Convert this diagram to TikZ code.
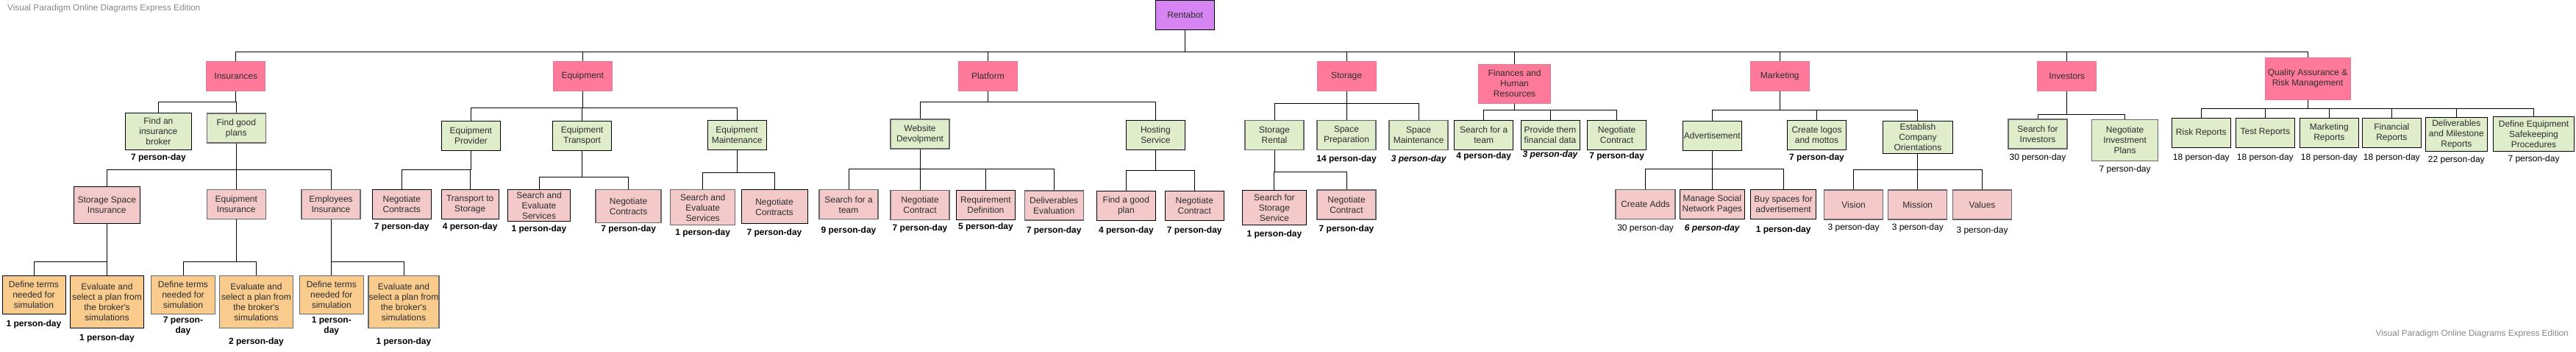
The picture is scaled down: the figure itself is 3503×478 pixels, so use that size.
\documentclass[tikz,border=0pt]{standalone}
\usepackage{fontspec}
\setmainfont{Liberation Sans}
\definecolor{purp}{RGB}{214,132,242}
\definecolor{rosa}{RGB}{255,122,154}
\definecolor{rosaline}{RGB}{226,120,145}
\definecolor{verd}{RGB}{224,237,203}
\definecolor{rosc}{RGB}{244,201,201}
\definecolor{oran}{RGB}{249,203,141}
\definecolor{gline}{RGB}{105,105,105}
\definecolor{txt}{RGB}{45,45,45}
\definecolor{wmark}{RGB}{135,135,135}
\tikzset{
  bx/.style={draw=black, line width=0.9pt, text=txt, font=\fontsize{12}{14}\selectfont, align=center, inner sep=0.5pt, minimum width=80pt, minimum height=40pt},
  lv0/.style={bx, fill=purp},
  lv1/.style={bx, fill=rosa, draw=rosaline},
  lv2/.style={bx, fill=verd},
  lv3/.style={bx, fill=rosc},
  lv4/.style={bx, fill=oran},
  gb/.style={draw=gline, line width=1.3pt},
  pd/.style={font=\bfseries\fontsize{12}{14}\selectfont, align=center, inner sep=0pt},
  pdr/.style={pd, font=\fontsize{12}{14}\selectfont},
  pdi/.style={pd, font=\bfseries\itshape\fontsize{12}{14}\selectfont},
  wm/.style={text=wmark, font=\fontsize{11.8}{14}\selectfont, inner sep=0pt},
  wire/.style={line width=0.9pt}
}
\newcommand{\wbs}[3]{\foreach \ch in {#3}{\draw[wire] (#1.south) |- (\ch.north |- 0,#2) -- (\ch.north);}}
\begin{document}
\begin{tikzpicture}[x=1pt,y=-1pt]
\useasboundingbox (0,0) rectangle (3503,478);
\node[wm,anchor=west] (W1) at (10,11) {Visual Paradigm Online Diagrams Express Edition};
\node[wm,anchor=east] (W2) at (3493,453) {Visual Paradigm Online Diagrams Express Edition};
\node[lv0] (R) at (1611.7,20.3) {Rentabot};
\node[lv1] (I) at (320.8,103.3) {Insurances};
\node[lv1] (E) at (792.3,103.3) {Equipment};
\node[lv1] (P) at (1343.4,103.3) {Platform};
\node[lv1] (S) at (1831,103.3) {Storage};
\node[lv1,minimum width=98pt,minimum height=53pt] (F) at (2059.5,113.7) {Finances and\\Human\\Resources};
\node[lv1] (M) at (2420.3,103.3) {Marketing};
\node[lv1] (V) at (2810.7,103.6) {Investors};
\node[lv1,minimum width=116pt,minimum height=57pt] (Q) at (3138.1,106.7) {Quality Assurance \&\\Risk Management};
\node[lv2,minimum width=90pt,minimum height=50pt] (I1) at (215.4,178.3) {Find an\\insurance\\broker};
\node[lv2,gb] (I2) at (321.3,174) {Find good\\plans};
\node[lv3,minimum width=90pt,minimum height=50pt] (I21) at (145.3,278.3) {Storage Space\\Insurance};
\node[lv3,gb] (I22) at (321.3,277.3) {Equipment\\Insurance};
\node[lv3,gb] (I23) at (450,277.3) {Employees\\Insurance};
\node[lv4,minimum width=86pt,minimum height=52pt] (I211) at (46,400.5) {Define terms\\needed for\\simulation};
\node[lv4,minimum width=100pt,minimum height=71pt] (I212) at (145.5,410.2) {Evaluate and\\select a plan from\\the broker\textquotesingle s\\simulations};
\node[lv4,gb,minimum width=87pt,minimum height=52pt] (I221) at (249,400.5) {Define terms\\needed for\\simulation};
\node[lv4,gb,minimum width=100pt,minimum height=71pt] (I222) at (348.5,410.2) {Evaluate and\\select a plan from\\the broker\textquotesingle s\\simulations};
\node[lv4,gb,minimum width=87pt,minimum height=52pt] (I231) at (450.8,400.5) {Define terms\\needed for\\simulation};
\node[lv4,gb,minimum width=96pt,minimum height=71pt] (I232) at (549,410.2) {Evaluate and\\select a plan from\\the broker\textquotesingle s\\simulations};
\node[lv2] (E1) at (640.4,184.3) {Equipment\\Provider};
\node[lv2] (E2) at (791.6,184.3) {Equipment\\Transport};
\node[lv2] (E3) at (1002.1,183.3) {Equipment\\Maintenance};
\node[lv3] (E11) at (546.3,277.3) {Negotiate\\Contracts};
\node[lv3,minimum width=78pt] (E12) at (639.2,277.3) {Transport to\\Storage};
\node[lv3,minimum width=85pt,minimum height=43pt] (E21) at (733,279) {Search and\\Evaluate\\Services};
\node[lv3,gb,minimum width=89pt,minimum height=45pt] (E22) at (854.6,279.8) {Negotiate\\Contracts};
\node[lv3,gb,minimum width=88pt,minimum height=48pt] (E31) at (955.7,281.8) {Search and\\Evaluate\\Services};
\node[lv3,minimum width=90pt,minimum height=46pt] (E32) at (1053,280.8) {Negotiate\\Contracts};
\node[lv2,gb] (P1) at (1251,182) {Website\\Devolpment};
\node[lv2] (P2) at (1571.4,183.3) {Hosting\\Service};
\node[lv3,gb] (P11) at (1154,277.8) {Search for a\\team};
\node[lv3,gb] (P12) at (1251,278.5) {Negotiate\\Contract};
\node[lv3] (P13) at (1340.4,278.5) {Requirement\\Definition};
\node[lv3,gb] (P14) at (1433.2,279) {Deliverables\\Evaluation};
\node[lv3] (P21) at (1531.4,279.3) {Find a good\\plan};
\node[lv3] (P22) at (1624.3,279.3) {Negotiate\\Contract};
\node[lv2,gb] (S1) at (1733,183.3) {Storage\\Rental};
\node[lv2,gb] (S2) at (1831,183.3) {Space\\Preparation};
\node[lv2,gb] (S3) at (1929.1,183.3) {Space\\Maintenance};
\node[lv3,minimum width=87pt,minimum height=47pt] (S11) at (1732.9,282.2) {Search for\\Storage\\Service};
\node[lv3,gb] (S12) at (1831,278) {Negotiate\\Contract};
\node[lv2] (F1) at (2017.7,183.3) {Search for a\\team};
\node[lv2] (F2) at (2108,183.3) {Provide them\\financial data};
\node[lv2] (F3) at (2198.6,183.3) {Negotiate\\Contract};
\node[lv2] (M1) at (2328.3,184.3) {Advertisement};
\node[lv2] (M2) at (2470.5,183.3) {Create logos\\and mottos};
\node[lv2,minimum width=95pt,minimum height=44pt] (M3) at (2607.9,186.3) {Establish\\Company\\Orientations};
\node[lv3,gb,minimum width=81pt] (M11) at (2237.6,277.7) {Create Adds};
\node[lv3,minimum width=88pt] (M12) at (2328.3,277.7) {Manage Social\\Network Pages};
\node[lv3,minimum width=89pt] (M13) at (2425.1,277.7) {Buy spaces for\\advertisement};
\node[lv3,gb] (M31) at (2520.6,278) {Vision};
\node[lv3,gb] (M32) at (2607.8,278) {Mission};
\node[lv3,gb] (M33) at (2695.5,278) {Values};
\node[lv2,gb] (V1) at (2771,182) {Search for\\Investors};
\node[lv2,gb,minimum width=90pt,minimum height=56pt] (V2) at (2889.6,190.3) {Negotiate\\Investment\\Plans};
\node[lv2] (Q1) at (2993.3,180) {Risk Reports};
\node[lv2] (Q2) at (3080.3,180) {Test Reports};
\node[lv2] (Q3) at (3167.3,180) {Marketing\\Reports};
\node[lv2] (Q4) at (3252.3,180) {Financial\\Reports};
\node[lv2,minimum width=84pt,minimum height=46pt] (Q5) at (3340.3,182.8) {Deliverables\\and Milestone\\Reports};
\node[lv2,minimum width=110pt,minimum height=47pt] (Q6) at (3445.5,182.3) {Define Equipment\\Safekeeping\\Procedures};
\node[pd] (I1d) at (215.4,214.3) {7 person-day};
\node[pd] (I211d) at (46,440) {1 person-day};
\node[pd] (I212d) at (145.5,459.3) {1 person-day};
\node[pd] (I221d) at (249,443) {7 person-\\day};
\node[pd] (I222d) at (348.5,464) {2 person-day};
\node[pd] (I231d) at (450.8,443) {1 person-\\day};
\node[pd] (I232d) at (549,464) {1 person-day};
\node[pd] (E11d) at (546.3,308.3) {7 person-day};
\node[pd] (E12d) at (639.2,308.3) {4 person-day};
\node[pd] (E21d) at (733,311.7) {1 person-day};
\node[pd] (E22d) at (854.6,311.7) {7 person-day};
\node[pd] (E31d) at (955.7,316.7) {1 person-day};
\node[pd] (E32d) at (1053,316.7) {7 person-day};
\node[pd] (P11d) at (1154,313.3) {9 person-day};
\node[pd] (P12d) at (1251,310) {7 person-day};
\node[pd] (P13d) at (1340.4,308.3) {5 person-day};
\node[pd] (P14d) at (1433.2,313.3) {7 person-day};
\node[pd] (P21d) at (1531.4,313.3) {4 person-day};
\node[pd] (P22d) at (1624.3,313.3) {7 person-day};
\node[pd] (S2d) at (1831,216) {14 person-day};
\node[pdi] (S3d) at (1929.1,216) {3 person-day};
\node[pd] (S11d) at (1732.9,318) {1 person-day};
\node[pd] (S12d) at (1831,311.7) {7 person-day};
\node[pd] (F1d) at (2017.7,212.7) {4 person-day};
\node[pdi] (F2d) at (2108,210.7) {3 person-day};
\node[pd] (F3d) at (2198.6,212.7) {7 person-day};
\node[pd] (M2d) at (2470.5,214) {7 person-day};
\node[pdr] (M11d) at (2237.6,310) {30 person-day};
\node[pdi] (M12d) at (2328.3,310.7) {6 person-day};
\node[pd] (M13d) at (2425.1,312.3) {1 person-day};
\node[pdr] (M31d) at (2520.6,309.3) {3 person-day};
\node[pdr] (M32d) at (2607.8,309.3) {3 person-day};
\node[pdr] (M33d) at (2695.5,313.3) {3 person-day};
\node[pdr] (V1d) at (2771,214) {30 person-day};
\node[pdr] (V2d) at (2889.6,230.7) {7 person-day};
\node[pdr] (Q1d) at (2993.3,214) {18 person-day};
\node[pdr] (Q2d) at (3080.3,214) {18 person-day};
\node[pdr] (Q3d) at (3167.3,214) {18 person-day};
\node[pdr] (Q4d) at (3252.3,214) {18 person-day};
\node[pdr] (Q5d) at (3340.3,217.7) {22 person-day};
\node[pdr] (Q6d) at (3445.5,216) {7 person-day};
\wbs{R}{70}{I,E,P,S,F,M,V,Q}
\wbs{I}{138.3}{I1,I2}
\wbs{I2}{230.7}{I21,I22,I23}
\wbs{I21}{355.3}{I211,I212}
\wbs{I22}{355.3}{I221,I222}
\wbs{I23}{355.3}{I231,I232}
\wbs{E}{146.7}{E1,E2,E3}
\wbs{E1}{230.7}{E11,E12}
\wbs{E2}{240}{E21,E22}
\wbs{E3}{234}{E31,E32}
\wbs{P}{138.3}{P1,P2}
\wbs{P1}{229.3}{P11,P12,P13,P14}
\wbs{P2}{231.7}{P21,P22}
\wbs{S}{140.7}{S1,S2,S3}
\wbs{S1}{233.3}{S11,S12}
\wbs{F}{149.3}{F1,F2,F3}
\wbs{M}{149.3}{M1,M2,M3}
\wbs{M1}{229.3}{M11,M12,M13}
\wbs{M3}{230.7}{M31,M32,M33}
\wbs{V}{155.7}{V1,V2}
\wbs{Q}{147.7}{Q1,Q2,Q3,Q4,Q5,Q6}
\end{tikzpicture}
\end{document}
